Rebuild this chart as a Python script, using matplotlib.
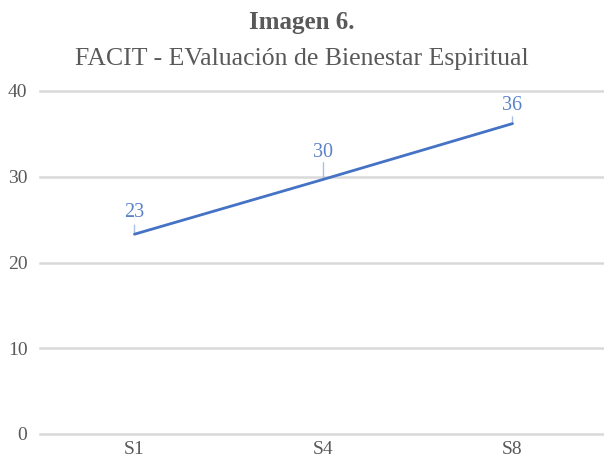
import matplotlib
matplotlib.use("Agg")
import matplotlib.pyplot as plt

categories = ["S1", "S4", "S8"]
values = [23.3, 29.7, 36.2]
labels = ["23", "30", "36"]
yticks = [0, 10, 20, 30, 40]

# layout: label offsets (points) and leader lengths (points)
label_off = [9.0, 12.5, 6.5]
leader_len = [6.5, 12.0, 4.8]

LINE = "#4472C4"
LABEL = "#5B82C9"
GRID = "#D9D9D9"
TEXT = "#595959"
SERIF = "Liberation Serif"

fig = plt.figure(figsize=(6.04, 4.58), dpi=100)
ax = fig.add_axes([40/604, 1-434/458, 567/604, (434-91)/458])

x = list(range(len(categories)))
ax.plot(x, values, color=LINE, lw=2.0, solid_capstyle="round", zorder=3)
for xi, v, lab, lo, ll in zip(x, values, labels, label_off, leader_len):
    ax.annotate("", xy=(xi, v), xytext=(0, ll), textcoords="offset points",
                arrowprops=dict(arrowstyle="-", color="#A9C0E6", lw=1,
                                shrinkA=0, shrinkB=0), zorder=2)
    ax.annotate(lab, xy=(xi, v), xytext=(0, lo), textcoords="offset points",
                ha="center", va="bottom", color=LABEL, fontsize=14.5, family=SERIF)

ax.set_xlim(-0.5, 2.5)
ax.set_ylim(0, 40)
ax.set_yticks(yticks)
ax.set_xticks(x)
ax.set_xticklabels(categories)
for t in yticks:
    ax.axhline(t, color=GRID, lw=1.8, zorder=1, clip_on=False)
for s in ax.spines.values():
    s.set_visible(False)
ax.tick_params(length=0, labelsize=14, labelcolor=TEXT)
ax.tick_params(axis="x", pad=5)
ax.tick_params(axis="y", pad=9)
for t in ax.get_xticklabels() + ax.get_yticklabels():
    t.set_family(SERIF)

fig.text(0.5, 1-22/458, "Imagen 6.", ha="center", va="center", fontsize=18,
         fontweight="bold", color=TEXT, family=SERIF)
fig.text(0.5, 1-59/458, "FACIT - EValuación de Bienestar Espiritual", ha="center",
         va="center", fontsize=18.5, color=TEXT, family=SERIF)

fig.savefig("out.png", dpi=100)
